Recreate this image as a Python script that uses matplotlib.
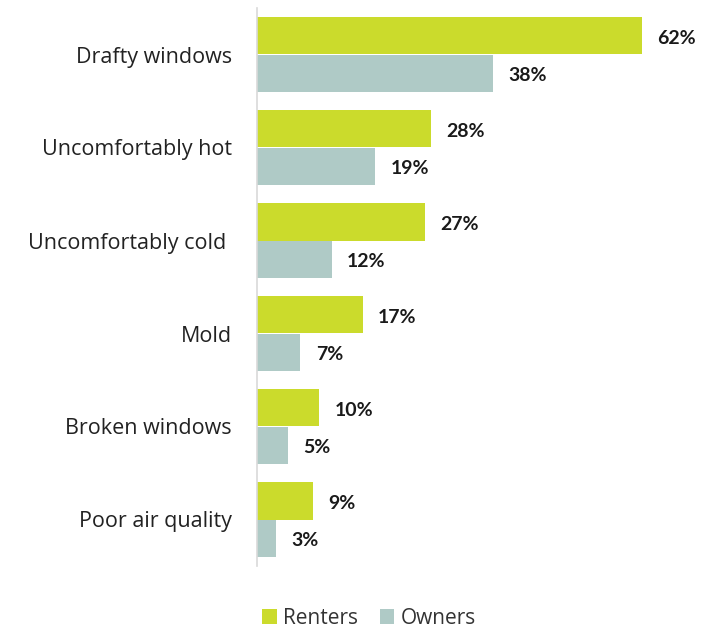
import matplotlib
matplotlib.use("Agg")
import matplotlib.pyplot as plt
import numpy as np

categories = ["Drafty windows", "Uncomfortably hot", "Uncomfortably cold ",
              "Mold", "Broken windows", "Poor air quality"]
renters = [62, 28, 27, 17, 10, 9]
owners = [38, 19, 12, 7, 5, 3]
series_names = ["Renters", "Owners"]

GREEN = "#CBDB2C"
TEAL = "#AFCAC6"

plt.rcParams["font.family"] = ["Open Sans", "DejaVu Sans"]

fig = plt.figure(figsize=(7.24, 6.29), dpi=100)
ax = fig.add_axes([257 / 724, 1 - 566 / 629, 434.7 / 724, 558 / 629])

y = np.arange(len(categories))
h = 0.4
ax.barh(y - h / 2, renters, height=h, color=GREEN, label=series_names[0])
ax.barh(y + h / 2, owners, height=h, color=TEAL, label=series_names[1])

ax.set_ylim(len(categories) - 0.5, -0.5)
ax.set_xlim(0, 70)

value_font = dict(fontsize=14, fontweight="bold", color="#1a1a1a",
                  family=["Lato", "DejaVu Sans"])
for yi, v in zip(y, renters):
    ax.annotate(f"{v}%", (v, yi - h / 2), xytext=(11, -2),
                textcoords="offset points", va="center", ha="left", **value_font)
for yi, v in zip(y, owners):
    ax.annotate(f"{v}%", (v, yi + h / 2), xytext=(11, -2),
                textcoords="offset points", va="center", ha="left", **value_font)

ax.set_yticks(y)
ax.set_yticklabels(categories, fontsize=15.5, color="#222222")
ax.tick_params(axis="y", length=0, pad=18)
ax.set_xticks([])
for s in ["top", "right", "bottom"]:
    ax.spines[s].set_visible(False)
ax.spines["left"].set_color("#D9D9D9")
ax.spines["left"].set_linewidth(1.2)

fig.legend(loc="center", bbox_to_anchor=(369 / 724, 1 - 618 / 629), ncol=2,
           frameon=False, fontsize=15, handlelength=0.7, handleheight=0.7,
           handletextpad=0.3, columnspacing=1.05, labelcolor="#333333")

fig.savefig("out.png", dpi=100)
